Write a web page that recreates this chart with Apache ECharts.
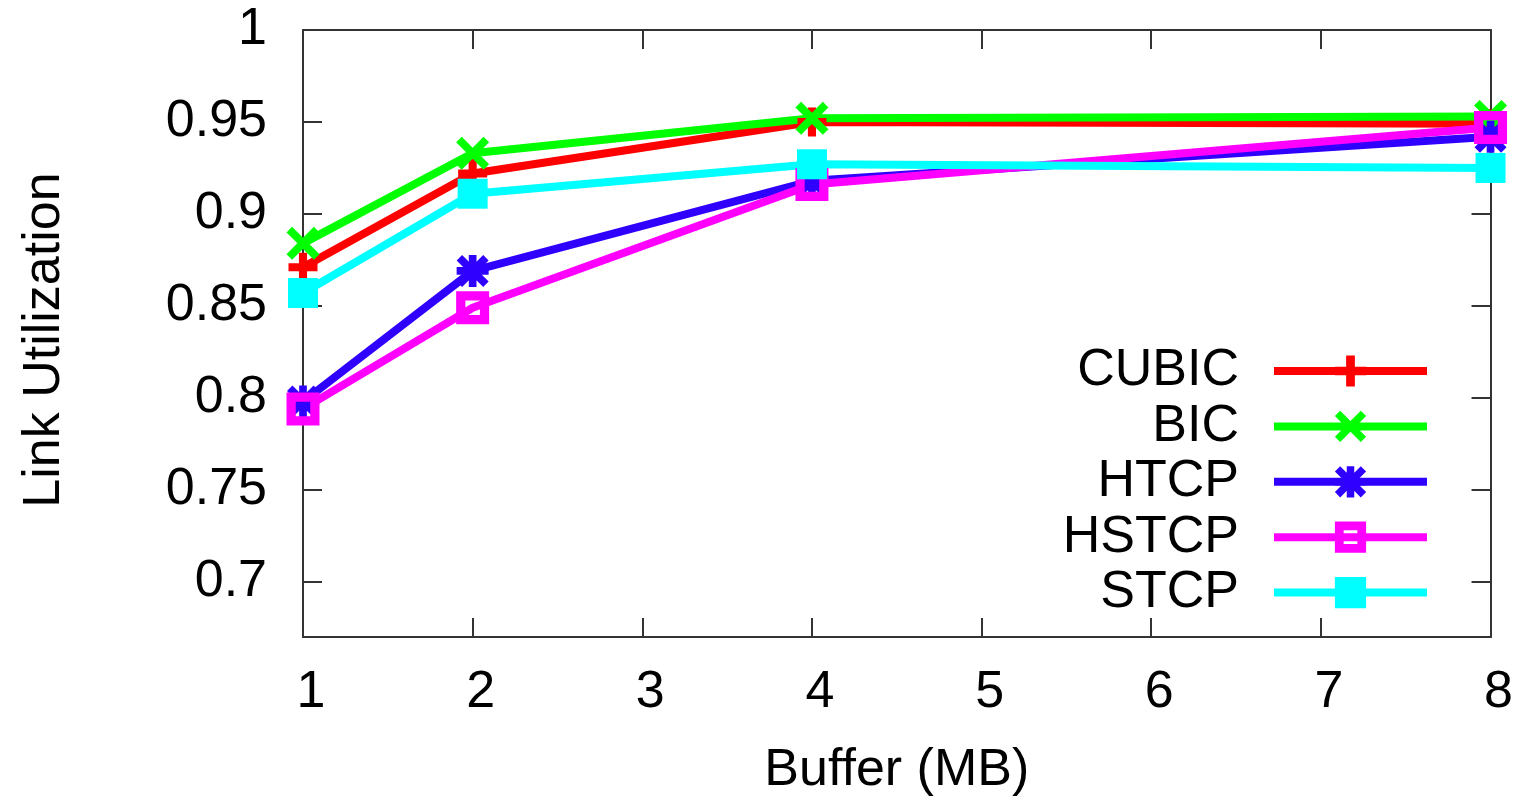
<!DOCTYPE html>
<html>
<head>
<meta charset="utf-8">
<title>Link Utilization vs Buffer</title>
<script src="https://cdn.jsdelivr.net/npm/echarts@6/dist/echarts.min.js"></script>
<style>
  html, body { margin: 0; padding: 0; background: #fff; }
  #chart { width: 1516px; height: 803px; }
</style>
</head>
<body>
<div id="chart"></div>
<script>
// Buffer sizes (MB) and measured link utilization per congestion control algorithm
const bufferMB = [1, 2, 4, 8];
const cubic = [0.871, 0.922, 0.950, 0.949];
const bic   = [0.884, 0.933, 0.952, 0.953];
const htcp  = [0.798, 0.869, 0.918, 0.942];
const hstcp = [0.794, 0.849, 0.916, 0.947];
const stcp  = [0.857, 0.911, 0.927, 0.925];

const seriesNames = ['CUBIC', 'BIC', 'HTCP', 'HSTCP', 'STCP'];
const yTicks = [0.7, 0.75, 0.8, 0.85, 0.9, 0.95, 1];
const xTicks = [1, 2, 3, 4, 5, 6, 7, 8];

// Point shapes in the classic plotting style
const d = 1.7;
const PLUS = 'path://M-1.4,-5L1.4,-5L1.4,-1.4L5,-1.4L5,1.4L1.4,1.4L1.4,5L-1.4,5L-1.4,1.4L-5,1.4L-5,-1.4L-1.4,-1.4Z';
const CROSS = 'path://M' + (-5 + d) + ',-5L0,' + (-d) + 'L' + (5 - d) + ',-5L5,' + (-5 + d) +
  'L' + d + ',0L5,' + (5 - d) + 'L' + (5 - d) + ',5L0,' + d + 'L' + (-5 + d) + ',5L-5,' + (5 - d) +
  'L' + (-d) + ',0L-5,' + (-5 + d) + 'Z';
const STAR = 'path://M-1.2,-5L1.2,-5L1.2,-1.2L5,-1.2L5,1.2L1.2,1.2L1.2,5L-1.2,5L-1.2,1.2L-5,1.2L-5,-1.2L-1.2,-1.2Z' +
  CROSS.replace('path://', '');
const RING = 'path://M-5,-5L5,-5L5,5L-5,5ZM-2.2,-2.2L-2.2,2.2L2.2,2.2L2.2,-2.2Z';

const FONT = 'Liberation Sans';
const FS = 52;
const AXIS_COLOR = '#333';

function pairs(values) {
  return bufferMB.map((x, i) => [x, values[i]]);
}

function lineSeries(name, values, color, symbol, size) {
  return {
    name: name,
    type: 'line',
    data: pairs(values),
    symbol: symbol,
    symbolSize: size,
    showAllSymbol: true,
    clip: false,
    lineStyle: { color: color, width: 8 },
    itemStyle: { color: color, borderWidth: 0 },
    emphasis: { disabled: true },
    z: 3
  };
}

const xBase = {
  type: 'value', min: 1, max: 8, interval: 1,
  axisLine: { show: true, lineStyle: { color: AXIS_COLOR, width: 2 } },
  axisTick: { show: true, inside: true, length: 19, lineStyle: { color: AXIS_COLOR, width: 2 } },
  splitLine: { show: false }
};
const yBase = {
  type: 'value', min: 0.67, max: 1,
  axisLine: { show: true, lineStyle: { color: AXIS_COLOR, width: 2 } },
  axisTick: { show: true, inside: true, length: 19, customValues: yTicks, lineStyle: { color: AXIS_COLOR, width: 2 } },
  splitLine: { show: false }
};

const chart = echarts.init(document.getElementById('chart'), null, { renderer: 'canvas' });
chart.setOption({
  animation: false,
  backgroundColor: '#fff',
  grid: { left: 303, right: 24, top: 30, bottom: 166, containLabel: false },
  xAxis: [
    Object.assign({}, xBase, {
      position: 'bottom',
      name: 'Buffer (MB)',
      nameLocation: 'middle',
      nameGap: 108,
      nameTextStyle: { fontFamily: FONT, fontSize: FS, color: '#000' },
      axisLabel: {
        show: true, margin: 30, fontFamily: FONT, fontSize: FS, color: '#000',
        padding: [0, 0, 0, 16],
        customValues: xTicks
      }
    }),
    Object.assign({}, xBase, { position: 'top', axisLabel: { show: false } })
  ],
  yAxis: [
    Object.assign({}, yBase, {
      position: 'left',
      name: 'Link Utilization',
      nameLocation: 'middle',
      nameGap: 232,
      nameRotate: 90,
      nameTextStyle: { fontFamily: FONT, fontSize: FS, color: '#000', padding: [0, 13, 0, 0] },
      axisLabel: {
        show: true, margin: 36, fontFamily: FONT, fontSize: FS, color: '#000',
        customValues: yTicks,
        formatter: v => String(v)
      }
    }),
    Object.assign({}, yBase, { position: 'right', axisLabel: { show: false } })
  ],
  legend: {
    show: true,
    orient: 'vertical',
    align: 'right',
    right: 85,
    top: 345,
    padding: 0,
    itemWidth: 153,
    itemHeight: 39,
    itemGap: 3.4,
    selectedMode: false,
    data: seriesNames,
    lineStyle: { width: 8 },
    textStyle: { fontFamily: FONT, fontSize: FS, color: '#000', padding: [0, 30, 0, 0] }
  },
  series: [
    lineSeries('CUBIC', cubic, '#ff0000', PLUS, 29),
    lineSeries('BIC', bic, '#00ff00', CROSS, 33),
    lineSeries('HTCP', htcp, '#3000ff', STAR, 32),
    lineSeries('HSTCP', hstcp, '#ff00ff', RING, 33),
    lineSeries('STCP', stcp, '#00ffff', 'rect', 30)
  ]
});
</script>
</body>
</html>
